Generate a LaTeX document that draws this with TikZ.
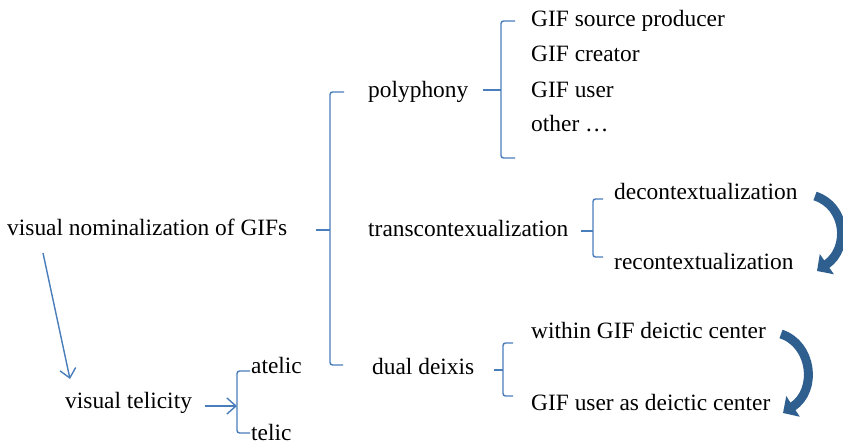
\documentclass[tikz,border=0pt]{standalone}
\usepackage{fontspec}
\setmainfont{Liberation Serif}
\usetikzlibrary{arrows.meta}
\definecolor{thinblue}{HTML}{4A7EBB}
\definecolor{thickblue}{HTML}{2F5F8F}
\tikzset{
  lbl/.style={anchor=base west, inner sep=0pt, font=\fontsize{23.4}{28}\selectfont},
  brace/.style={draw=thinblue, line width=1.4pt, rounded corners=2.5pt},
  thinarrow/.style={draw=thinblue, line width=1.4pt, -{Straight Barb[length=9pt,width=16pt,line width=1.4pt]}},
  bigarrow/.style={draw=thickblue, line width=9pt, -{Triangle[length=12pt,width=24pt]}},
}
\begin{document}
\begin{tikzpicture}[x=1pt,y=-1pt]
\useasboundingbox (0,0) rectangle (843,445);
% texts
\node[lbl] (main) at (7,235) {visual nominalization of GIFs};
\node[lbl] (poly) at (368,97) {polyphony};
\node[lbl] (trans) at (368,236) {transcontexualization};
\node[lbl] (dual) at (372,374) {dual deixis};
\node[lbl] (src) at (531,26) {GIF source producer};
\node[lbl] (crea) at (531,61) {GIF creator};
\node[lbl] (user) at (531,97) {GIF user};
\node[lbl] (other) at (531,131) {other …};
\node[lbl] (decon) at (614,199) {decontextualization};
\node[lbl] (recon) at (614,269) {recontextualization};
\node[lbl] (within) at (531,338) {within GIF deictic center};
\node[lbl] (asuser) at (531,410) {GIF user as deictic center};
\node[lbl] (vt) at (65,408) {visual telicity};
\node[lbl] (atelic) at (251,373) {atelic};
\node[lbl] (telic) at (251,440) {telic};
% big bracket
\draw[brace] (344,92) -- (330,92) -- (330,365) -- (343,365);
\draw[brace] (316,230) -- (330,230);
% polyphony bracket
\draw[brace] (515,21) -- (501,21) -- (501,158) -- (515,158);
\draw[brace] (483,90) -- (501,90);
% transcontextualization bracket
\draw[brace] (603,199) -- (593,199) -- (593,257) -- (603,257);
\draw[brace] (581,231) -- (593,231);
% dual deixis bracket
\draw[brace] (513,343) -- (503,343) -- (503,396) -- (513,396);
\draw[brace] (494,370) -- (503,370);
% telic bracket
\draw[brace] (250,371) -- (237,371) -- (237,433) -- (250,433);
% thin arrows
\coordinate (a1s) at (43,253);
\coordinate (a1e) at (70,379);
\draw[thinarrow] (a1s) -- (a1e);
\coordinate (a2s) at (205,406);
\coordinate (a2e) at (237,406);
\draw[thinarrow] (a2s) -- (a2e);
% thick curved arrows
\coordinate (b1s) at (815,196);
\coordinate (b1e) at (817,271);
\draw[bigarrow] (b1s) .. controls (846,206) and (850,248) .. (b1e);
\coordinate (b2s) at (781,334);
\coordinate (b2e) at (783,413);
\draw[bigarrow] (b2s) .. controls (812,344) and (818,390) .. (b2e);
\end{tikzpicture}
\end{document}
